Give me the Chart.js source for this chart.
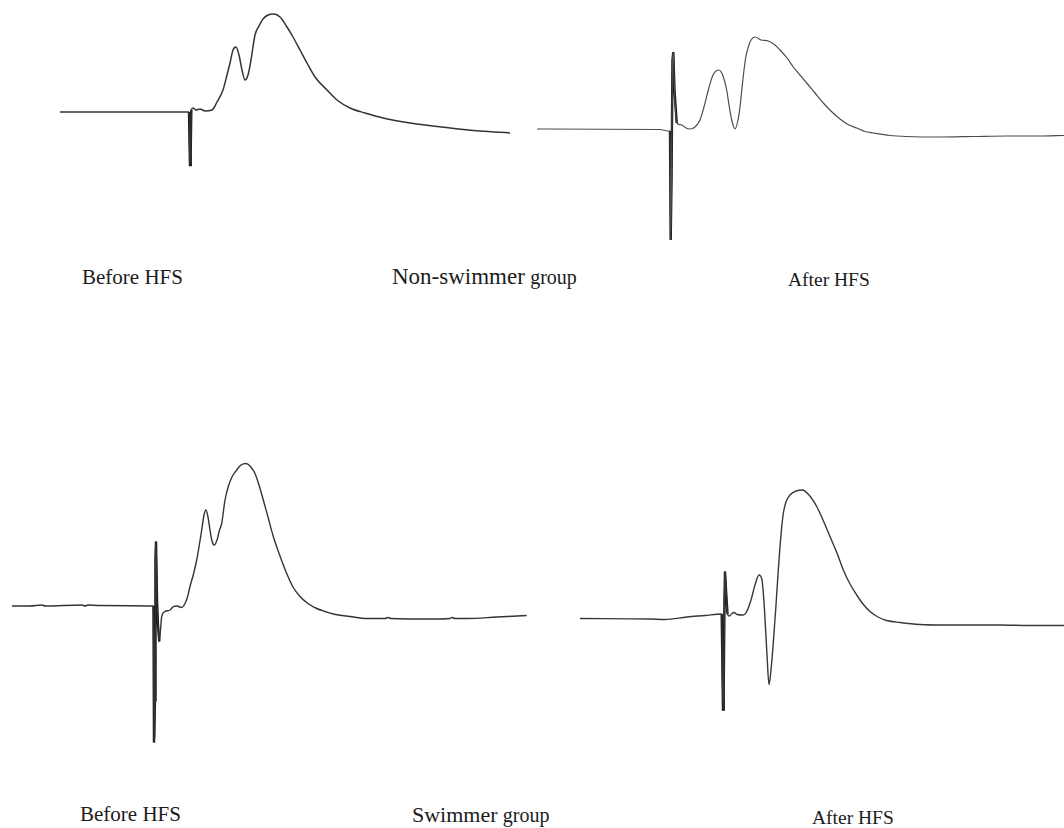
<!DOCTYPE html>
<html>
<head>
<meta charset="utf-8">
<script src="https://cdn.jsdelivr.net/npm/chart.js@4.4.1/dist/chart.umd.min.js"></script>
<style>
  html, body { margin: 0; padding: 0; background: #fff; }
  body { width: 1064px; height: 828px; position: relative; overflow: hidden;
         font-family: "Liberation Serif", "Times New Roman", serif; color: #1c1c1c; }
  canvas { position: absolute; }
  .lbl { position: absolute; font-size: 21px; line-height: 21px; white-space: nowrap; }
  .lbl .big { font-size: 23px; }
  .lbl .mid { font-size: 22px; }
  .lbl .sm { font-size: 20px; }
  .lbl.after { font-size: 19.5px; }
</style>
</head>
<body>
<canvas id="nsBefore"></canvas>
<canvas id="nsAfter"></canvas>
<canvas id="swBefore"></canvas>
<canvas id="swAfter"></canvas>

<div class="lbl" style="left:82px;top:267px;">Before HFS</div>
<div class="lbl" style="left:392px;top:266px;"><span class="big">Non-swimmer</span> <span class="sm">group</span></div>
<div class="lbl after" style="left:788px;top:269px;">After HFS</div>
<div class="lbl" style="left:80px;top:804px;">Before HFS</div>
<div class="lbl" style="left:412px;top:804px;"><span class="mid">Swimmer</span> <span class="sm">group</span></div>
<div class="lbl after" style="left:812px;top:807px;">After HFS</div>

<script>
// Field potential recordings: time in ms from sweep start, amplitude in mV.

// Non-swimmer group, before HFS
const nonSwimBeforeT = [0, 12.9, 13.0, 13.07, 13.13, 13.3, 13.6, 14.0, 14.5, 15.2, 15.7, 16.3, 16.7, 17.0, 17.3, 17.6, 17.9, 18.2, 18.5, 18.8, 19.1, 19.5, 19.9, 20.3, 20.8, 21.4, 22.0, 22.7, 23.3, 24.0, 24.7, 25.5, 26.7, 27.7, 29.0, 30.5, 32.3, 35.0, 39.0, 42.0, 45.0];
const nonSwimBeforeV = [0, 0, -1.06, -0.8, 0.04, 0.08, 0.04, 0.06, 0.02, 0.04, 0.2, 0.44, 0.74, 0.98, 1.24, 1.30, 1.14, 0.84, 0.64, 0.74, 1.04, 1.54, 1.72, 1.86, 1.94, 1.96, 1.90, 1.70, 1.50, 1.24, 0.98, 0.70, 0.44, 0.24, 0.08, -0.02, -0.12, -0.22, -0.32, -0.38, -0.42];

// Non-swimmer group, after HFS
const nonSwimAfterT = [0, 12.3, 13.1, 13.3, 13.37, 13.45, 13.55, 13.63, 13.75, 13.97, 14.47, 14.9, 15.3, 15.8, 16.3, 16.7, 17.13, 17.6, 18.2, 18.6, 18.97, 19.2, 19.47, 19.8, 20.1, 20.3, 20.5, 20.7, 20.9, 21.13, 21.4, 21.8, 22.4, 23.13, 23.8, 24.3, 25.0, 25.63, 26.3, 26.97, 27.8, 28.63, 29.5, 30.3, 31.1, 31.97, 32.8, 33.63, 35.3, 36.97, 40.3, 43.63, 46.97, 50.3, 52.7];
const nonSwimAfterV = [0, -0.01, -0.04, -0.04, -2.22, -1.02, 1.38, 1.54, 0.78, 0.12, 0.08, 0.02, 0.0, 0.04, 0.18, 0.44, 0.78, 1.08, 1.18, 1.06, 0.78, 0.48, 0.18, 0.0, 0.18, 0.44, 0.82, 1.18, 1.46, 1.64, 1.78, 1.84, 1.78, 1.76, 1.68, 1.58, 1.42, 1.24, 1.08, 0.92, 0.72, 0.52, 0.34, 0.20, 0.09, 0.02, -0.05, -0.08, -0.13, -0.15, -0.16, -0.15, -0.14, -0.14, -0.13];

// Swimmer group, before HFS
const swimBeforeT = [0, 1.8, 3.0, 3.3, 7.0, 7.3, 7.6, 8.8, 14.15, 14.2, 14.3, 14.35, 14.4, 14.5, 14.6, 14.73, 14.85, 14.97, 15.3, 15.8, 16.1, 16.47, 16.97, 17.3, 17.55, 17.8, 18.15, 18.47, 18.7, 18.97, 19.2, 19.4, 19.6, 19.8, 20.0, 20.23, 20.5, 20.75, 20.97, 21.3, 21.63, 22.0, 22.47, 22.9, 23.4, 23.8, 24.3, 24.7, 25.13, 25.6, 26.13, 26.8, 27.47, 28.1, 28.8, 29.6, 30.47, 31.3, 32.13, 33.8, 35.47, 37.3, 37.6, 37.9, 42.13, 43.8, 44.0, 44.3, 45.47, 48.5, 51.47];
const swimBeforeV = [0, 0, 0.02, 0, 0.02, 0, 0.02, 0.01, 0, -2.73, -1.88, 0.92, 1.29, 0.12, -0.38, -0.71, -0.48, -0.21, -0.11, -0.08, -0.02, 0, -0.03, 0.05, 0.18, 0.39, 0.64, 0.92, 1.18, 1.52, 1.82, 1.92, 1.78, 1.52, 1.30, 1.22, 1.32, 1.52, 1.65, 2.12, 2.39, 2.58, 2.72, 2.82, 2.85, 2.80, 2.65, 2.42, 2.12, 1.78, 1.39, 1.00, 0.65, 0.38, 0.19, 0.05, -0.05, -0.11, -0.16, -0.21, -0.25, -0.25, -0.23, -0.25, -0.26, -0.25, -0.23, -0.25, -0.25, -0.22, -0.19];

// Swimmer group, after HFS
const swimAfterT = [0, 7.0, 8.5, 10.7, 12.5, 14.17, 14.3, 14.37, 14.45, 14.5, 14.6, 14.75, 14.93, 15.2, 15.4, 15.7, 16.33, 16.7, 17.1, 17.5, 17.9, 18.2, 18.45, 18.7, 18.9, 19.1, 19.33, 19.6, 19.83, 20.1, 20.33, 20.6, 21.0, 21.6, 22.23, 22.9, 23.67, 24.3, 25.0, 25.7, 26.33, 27.0, 27.67, 28.3, 29.0, 29.8, 30.67, 32.0, 34.0, 36.5, 39.0, 42.0, 45.0, 48.0, 48.4];
const swimAfterV = [-0.01, -0.02, -0.03, 0.02, 0.05, 0.08, -1.83, -1.44, 0.36, 0.93, 0.56, 0.08, 0.04, 0.09, 0.11, 0.07, 0.06, 0.14, 0.36, 0.66, 0.86, 0.76, 0.16, -0.74, -1.33, -1.04, -0.50, 0.26, 0.96, 1.66, 2.09, 2.32, 2.46, 2.54, 2.56, 2.46, 2.23, 1.96, 1.63, 1.30, 0.96, 0.68, 0.46, 0.28, 0.13, 0.02, -0.05, -0.09, -0.13, -0.14, -0.14, -0.14, -0.15, -0.15, -0.15];

// Stimulus artifact windows (ms), drawn heavier on top of each trace
const nonSwimBeforeArtifact = [12.9, 13.13];
const nonSwimAfterArtifact  = [13.3, 13.97];
const swimBeforeArtifact    = [14.15, 14.73];
const swimAfterArtifact     = [14.17, 14.75];

// Drawing scale and placement of each recording
const PX_PER_MS = 10;
const PX_PER_MV = 50;
const panels = [
  { id: 'nsBefore', t: nonSwimBeforeT, v: nonSwimBeforeV, art: nonSwimBeforeArtifact, left: 60,  top: 0,   width: 450, height: 250, zeroY: 112, color: '#333333', lw: 1.5 },
  { id: 'nsAfter',  t: nonSwimAfterT,  v: nonSwimAfterV,  art: nonSwimAfterArtifact,  left: 537, top: 0,   width: 527, height: 250, zeroY: 129, color: '#4d4d4d', lw: 1.2 },
  { id: 'swBefore', t: swimBeforeT,    v: swimBeforeV,    art: swimBeforeArtifact,    left: 12,  top: 420, width: 516, height: 340, zeroY: 186, color: '#333333', lw: 1.4 },
  { id: 'swAfter',  t: swimAfterT,     v: swimAfterV,     art: swimAfterArtifact,     left: 580, top: 440, width: 484, height: 300, zeroY: 178, color: '#383838', lw: 1.4 }
];

panels.forEach(p => {
  const cv = document.getElementById(p.id);
  cv.width = p.width;
  cv.height = p.height;
  cv.style.left = p.left + 'px';
  cv.style.top = p.top + 'px';

  const pts = p.t.map((t, i) => ({ x: t, y: p.v[i] }));
  const artPts = pts.filter(q => q.x >= p.art[0] && q.x <= p.art[1]);

  new Chart(cv.getContext('2d'), {
    type: 'line',
    data: {
      datasets: [
        { data: pts, borderColor: p.color, borderWidth: p.lw, pointRadius: 0,
          cubicInterpolationMode: 'monotone', fill: false, clip: false },
        { data: artPts, borderColor: '#111111', borderWidth: 2.4, pointRadius: 0,
          tension: 0, fill: false, clip: false }
      ]
    },
    options: {
      responsive: false,
      animation: false,
      events: [],
      layout: { padding: 0 },
      plugins: { legend: { display: false }, tooltip: { enabled: false } },
      scales: {
        x: { type: 'linear', display: false, min: 0, max: p.width / PX_PER_MS },
        y: { type: 'linear', display: false,
             min: -(p.height - p.zeroY) / PX_PER_MV, max: p.zeroY / PX_PER_MV }
      }
    }
  });
});
</script>
</body>
</html>
